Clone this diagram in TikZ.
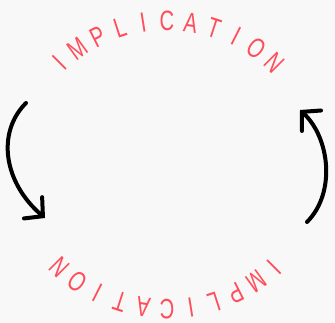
\documentclass[tikz,border=0pt]{standalone}
\usepackage{fontspec}
\newfontfamily\ringfont[FakeStretch=0.72]{Liberation Sans}
\usetikzlibrary{arrows.meta}
\definecolor{ringred}{RGB}{255,77,90}
\definecolor{paper}{RGB}{248,248,248}

\begin{document}
\begin{tikzpicture}[x=1pt, y=1pt, >=Stealth,
  ringletter/.style={text=ringred, font=\ringfont\fontsize{28}{28}\selectfont, inner sep=0pt, anchor=center},
  bentarrow/.style={line width=4pt, line cap=round, line join=round,
    -{Straight Barb[length=13pt, width=28pt, line cap=round]}}
  ]

% Background and bounding box
\fill[paper] (0,0) rectangle (335,323);
\useasboundingbox (0,0) rectangle (335,323);
\coordinate (ctr) at (167,158);

% Top arc: IMPLICATION, left to right
\foreach \ch [count=\i from 0] in {I,M,P,L,I,C,A,T,I,O,N} {
  \pgfmathsetmacro\ang{135-9*\i}
  \node[ringletter, rotate=\ang-90] (top\i) at ([shift={(\ang:152 and 144)}]ctr) {\ch};
}

% Bottom arc: IMPLICATION, upside down
\foreach \ch [count=\i from 0] in {I,M,P,L,I,C,A,T,I,O,N} {
  \pgfmathsetmacro\ang{-45-9*\i}
  \node[ringletter, rotate=\ang-90] (bot\i) at ([shift={(\ang:152 and 144)}]ctr) {\ch};
}

% Arrows
\coordinate (lstart) at (26,220);
\coordinate (lend) at (45,105);
\coordinate (rstart) at (307,101);
\coordinate (rend) at (300,213);

\draw[bentarrow] (lstart) .. controls (-4,190) and (4,140) .. (lend);
\draw[bentarrow] (rstart) .. controls (336,130) and (330,185) .. (rend);

\end{tikzpicture}
\end{document}
